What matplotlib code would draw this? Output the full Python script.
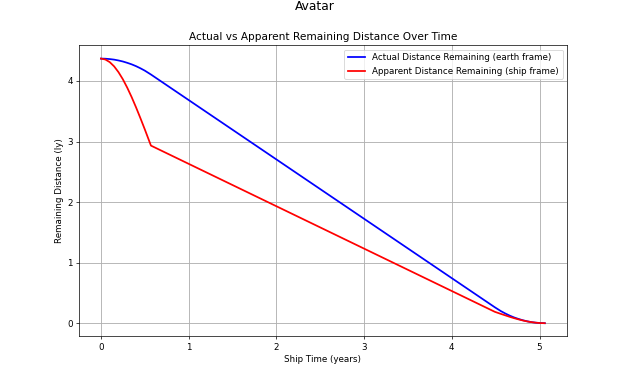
import matplotlib
matplotlib.use("Agg")
import matplotlib.pyplot as plt

# Ship proper time (years)
ship_time = [0.0, 0.05, 0.1, 0.15, 0.2, 0.25, 0.3, 0.35, 0.4, 0.45, 0.5, 0.57,
             4.49, 4.56, 4.61, 4.66, 4.71, 4.76, 4.81, 4.86, 4.91, 4.96, 5.01, 5.06]

# Actual distance remaining, earth frame (ly)
actual_distance = [4.37, 4.368, 4.362, 4.353, 4.339, 4.322, 4.300, 4.275, 4.245, 4.210, 4.171, 4.107,
                   0.263, 0.199, 0.160, 0.125, 0.095, 0.070, 0.048, 0.031, 0.017, 0.008, 0.002, 0.0]

# Apparent distance remaining, ship frame (ly)
apparent_distance = [4.37, 4.355, 4.312, 4.242, 4.146, 4.028, 3.889, 3.734, 3.565, 3.386, 3.201, 2.933,
                     0.188, 0.153, 0.129, 0.105, 0.083, 0.063, 0.045, 0.029, 0.017, 0.008, 0.002, 0.0]

fig, ax = plt.subplots(figsize=(10, 6), dpi=63)
ax.plot(ship_time, actual_distance, color="blue", linewidth=2.0,
        label="Actual Distance Remaining (earth frame)")
ax.plot(ship_time, apparent_distance, color="red", linewidth=2.0,
        label="Apparent Distance Remaining (ship frame)")
ax.set_xlabel("Ship Time (years)")
ax.set_ylabel("Remaining Distance (ly)")
ax.set_title("Actual vs Apparent Remaining Distance Over Time")
ax.grid(True, linewidth=1.0)
ax.legend(loc="upper right")
fig.suptitle("Avatar", fontsize=14, y=1.0)
fig.savefig("out.png", dpi=63)
